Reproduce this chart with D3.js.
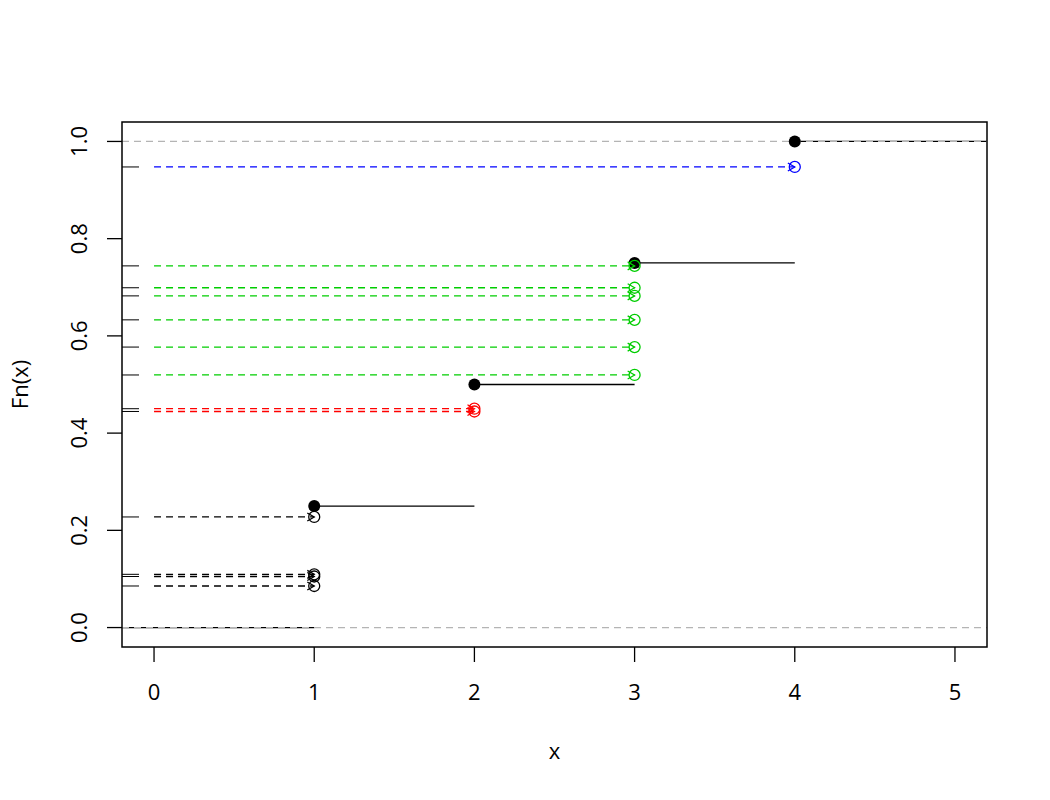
<!DOCTYPE html>
<html><head><meta charset="utf-8">
<script src="https://cdn.jsdelivr.net/npm/d3@7"></script>
<style>body{margin:0;background:#fff}text{font-family:"Open Sans",sans-serif;fill:#000}</style>
</head><body><svg id="c" width="1050" height="800"></svg>
<script>
// ECDF jump points (x, Fn(x))
const stepX = [1, 2, 3, 4];
const stepY = [0.25, 0.5, 0.75, 1.0];
// uniform draws u and the resulting sample value (inverse transform)
const uVals = [0.0855, 0.1050, 0.1095, 0.2275, 0.4445, 0.4502, 0.5196, 0.577, 0.633, 0.6823, 0.699, 0.744, 0.9475];
const uSample = [1, 1, 1, 1, 2, 2, 3, 3, 3, 3, 3, 3, 4];
const sampleColors = {1: "#000000", 2: "#FF0000", 3: "#00CD00", 4: "#0000FF"};
const xTicks = [0, 1, 2, 3, 4, 5];
const yTicks = [0, 0.2, 0.4, 0.6, 0.8, 1.0];
const refLines = [0, 1];

const svg = d3.select("#c");
const L = 122, R = 987, T = 122, B = 647;
const x = d3.scaleLinear().domain([-0.2, 5.2]).range([L, R]);
const y = d3.scaleLinear().domain([-0.04, 1.04]).range([B, T]);
const lw = 1.3;
const fs = 22;

// ECDF horizontal segments
const segs = [[-0.2, 1, 0]];
stepX.forEach((sx, i) => segs.push([sx, i < stepX.length - 1 ? stepX[i + 1] : 5.2, stepY[i]]));
svg.append("g").selectAll("line").data(segs).join("line")
  .attr("x1", d => x(d[0])).attr("x2", d => x(d[1]))
  .attr("y1", d => y(d[2])).attr("y2", d => y(d[2]))
  .attr("stroke", "#000").attr("stroke-width", lw);

// reference lines
svg.append("g").selectAll("line").data(refLines).join("line")
  .attr("x1", L).attr("x2", R).attr("y1", d => y(d)).attr("y2", d => y(d))
  .attr("stroke", "#B4B4B4").attr("stroke-width", lw).attr("stroke-dasharray", "7,5");

// filled jump points
svg.append("g").selectAll("circle").data(stepX).join("circle")
  .attr("cx", d => x(d)).attr("cy", (d, i) => y(stepY[i])).attr("r", 6).attr("fill", "#000");

// arrows
const ag = svg.append("g");
uVals.forEach((u, i) => {
  const c = sampleColors[uSample[i]];
  const x0 = x(0), x1 = x(uSample[i]), yy = y(u);
  ag.append("line").attr("x1", x0).attr("x2", x1).attr("y1", yy).attr("y2", yy)
    .attr("stroke", c).attr("stroke-width", lw).attr("stroke-dasharray", "7,5");
  const hl = 8, a = Math.PI / 6;
  ag.append("path")
    .attr("d", `M${x1 - hl * Math.cos(a)},${yy - hl * Math.sin(a)}L${x1},${yy}L${x1 - hl * Math.cos(a)},${yy + hl * Math.sin(a)}`)
    .attr("fill", "none").attr("stroke", c).attr("stroke-width", lw);
  ag.append("circle").attr("cx", x1).attr("cy", yy).attr("r", 5.5)
    .attr("fill", "none").attr("stroke", c).attr("stroke-width", lw);
});

// rug on y axis
svg.append("g").selectAll("line").data(uVals).join("line")
  .attr("x1", L).attr("x2", L + 17).attr("y1", d => y(d)).attr("y2", d => y(d))
  .attr("stroke", "#000").attr("stroke-width", 1);

// box
svg.append("rect").attr("x", L).attr("y", T).attr("width", R - L).attr("height", B - T)
  .attr("fill", "none").attr("stroke", "#000").attr("stroke-width", 1.5);

// axes
const xa = svg.append("g");
xa.selectAll("line").data(xTicks).join("line")
  .attr("x1", d => x(d)).attr("x2", d => x(d)).attr("y1", B).attr("y2", B + 15)
  .attr("stroke", "#000").attr("stroke-width", lw);
xa.selectAll("text").data(xTicks).join("text")
  .attr("x", d => x(d)).attr("y", 700).attr("text-anchor", "middle").attr("font-size", fs)
  .text(d => d);
const ya = svg.append("g");
ya.selectAll("line").data(yTicks).join("line")
  .attr("x1", L - 15).attr("x2", L).attr("y1", d => y(d)).attr("y2", d => y(d))
  .attr("stroke", "#000").attr("stroke-width", lw);
ya.selectAll("text").data(yTicks).join("text")
  .attr("transform", d => `translate(87,${y(d)}) rotate(-90)`)
  .attr("text-anchor", "middle").attr("font-size", fs)
  .text(d => d.toFixed(1));

svg.append("text").attr("x", (L + R) / 2).attr("y", 759).attr("text-anchor", "middle")
  .attr("font-size", fs).text("x");
svg.append("text").attr("transform", `translate(28,${(T + B) / 2}) rotate(-90)`)
  .attr("text-anchor", "middle").attr("font-size", fs).text("Fn(x)");
</script></body></html>
